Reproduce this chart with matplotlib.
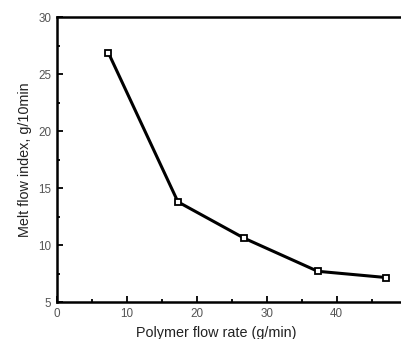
import matplotlib.pyplot as plt
from matplotlib.ticker import MultipleLocator

plt.rcParams['font.family'] = ['Liberation Sans', 'DejaVu Sans']

# polymer flow rate (g/min) vs melt flow index (g/10min)
flow_rate = [7.35, 17.3, 26.8, 37.3, 47.1]
mfi = [26.9, 13.8, 10.6, 7.7, 7.15]

fig = plt.figure(figsize=(4.02, 3.39), dpi=100)
ax = fig.add_axes([0.1418, 0.1091, 0.8694, 0.8393])

ax.plot(flow_rate, mfi, color='black', linewidth=2.2, marker='s', markersize=5,
        markerfacecolor='white', markeredgecolor='black', markeredgewidth=1.3)

ax.set_xlim(0, 50)
ax.set_ylim(5, 30)
ax.xaxis.set_major_locator(MultipleLocator(10))
ax.xaxis.set_minor_locator(MultipleLocator(5))
ax.yaxis.set_major_locator(MultipleLocator(5))
ax.yaxis.set_minor_locator(MultipleLocator(2.5))

ax.tick_params(which='both', direction='in', top=False, right=False,
               labelsize=8.4, labelcolor='#555555', width=1.3)
ax.tick_params(which='major', length=4.5, pad=4)
ax.tick_params(which='minor', length=2.5)
for s in ax.spines.values():
    s.set_linewidth(1.8)

ax.set_xlabel('Polymer flow rate (g/min)', fontsize=10.4, color='#222222')
ax.set_ylabel('Melt flow index, g/10min', fontsize=10.4, color='#222222')
ax.xaxis.set_label_coords(0.456, -0.084)
ax.yaxis.set_label_coords(-0.072, 0.5)

fig.savefig('out.png', dpi=100)
